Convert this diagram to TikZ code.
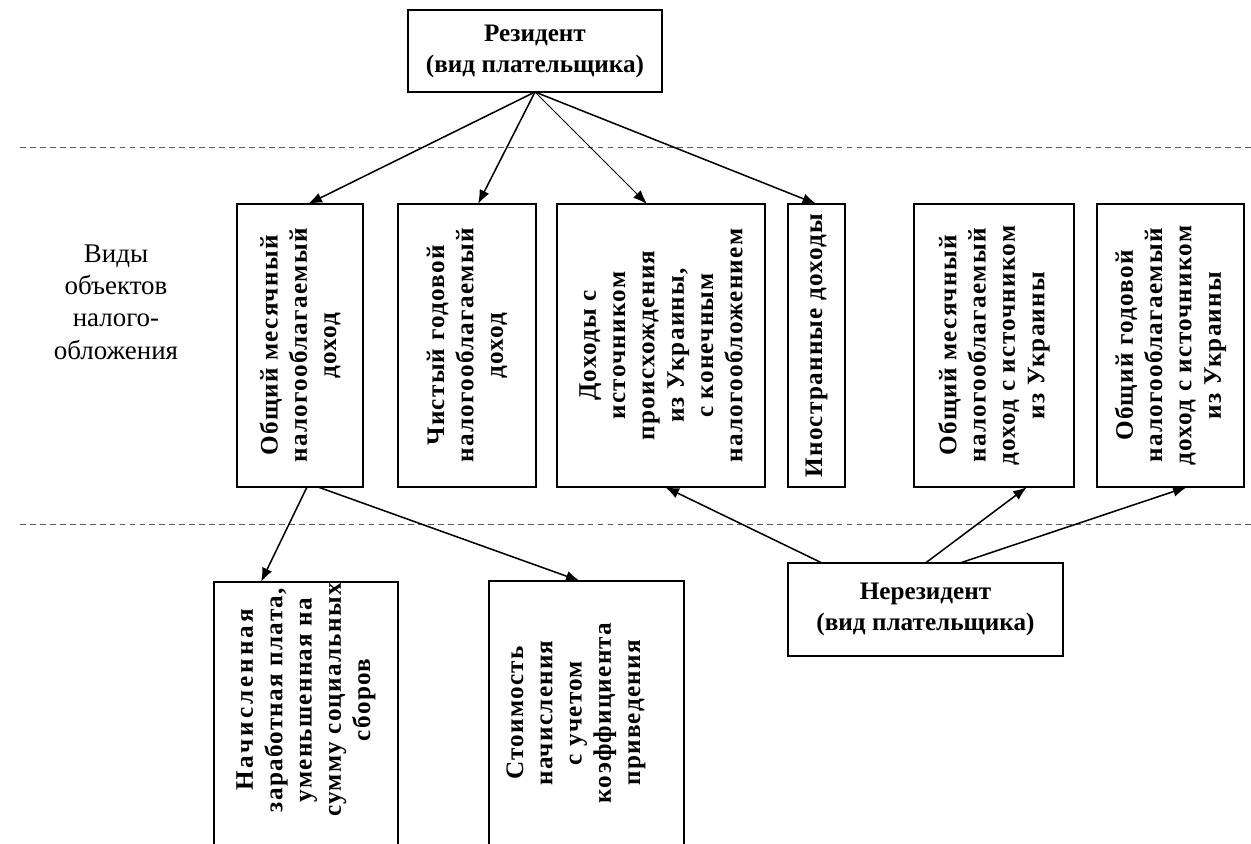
\documentclass[tikz,border=0pt]{standalone}
\usepackage{fontspec}
\setmainfont{Liberation Serif}
\usetikzlibrary{arrows.meta}

\begin{document}
\begin{tikzpicture}[x=0.03cm, y=-0.03cm,
    objframe/.style={draw, line width=0.9pt, inner sep=0pt, outer sep=0pt},
    objtext/.style={rotate=90, align=center, inner sep=0pt,
        font=\fontsize{21.5}{25}\selectfont\bfseries\addfontfeature{LetterSpace=5}},
    payer/.style={draw, line width=0.9pt, align=center, inner sep=0pt, outer sep=0pt,
        font=\fontsize{21.5}{26.5}\selectfont\bfseries},
    arr/.style={-{Latex[length=12pt, width=9pt]}, line width=1.3pt},
    thinarr/.style={-{Latex[length=12pt, width=9pt]}, line width=0.7pt},
    divider/.style={draw=black!65, line width=0.7pt, dash pattern=on 5pt off 3.5pt}]

\useasboundingbox (0,0) rectangle (1251,844);
\clip (0,0) rectangle (1251,844);

%box of the top row: name, x of centre, width, text
\newcommand{\objectbox}[4]{
        \node[objframe, minimum width=#3*0.03cm, minimum height=283*0.03cm] (#1) at (#2,345.5) {};
        \node[objtext] (#1t) at (#1.center) {#4};
}

%%dashed lines
\draw[divider] (20,147) -- (1251,147);
\draw[divider] (20,524) -- (1251,524);

%%payers
\node[payer, minimum width=254*0.03cm, minimum height=82*0.03cm] (res) at (535,51)
    {Резидент\\(вид плательщика)};
\node[payer, minimum width=275*0.03cm, minimum height=93*0.03cm] (nonres) at (925.5,609.5)
    {Нерезидент\\(вид плательщика)};

%%left label
\node[align=center, font=\fontsize{23}{27.5}\selectfont] (lbl) at (116,302)
    {Виды\\объектов\\налого-\\обложения};

%%objects of taxation
\objectbox{b1}{300}{126}{Общий месячный\\налогооблагаемый\\доход}
\objectbox{b2}{467}{138}{Чистый годовой\\налогооблагаемый\\доход}
\objectbox{b3}{661}{208}{Доходы с\\источником\\происхождения\\из Украины,\\с конечным\\налогообложением}
\objectbox{b4}{816.5}{57}{Иностранные доходы}
\objectbox{b5}{994}{160}{Общий месячный\\налогооблагаемый\\доход с источником\\из Украины}
\objectbox{b6}{1170.5}{147}{Общий годовой\\налогооблагаемый\\доход с источником\\из Украины}

%%lower row
\node[objframe, minimum width=184*0.03cm, minimum height=300*0.03cm] (nach) at (306,732) {};
\node[objtext] (nacht) at (306,700)
    {{\addfontfeature{LetterSpace=12}Начисленная}\\заработная плата,\\уменьшенная на\\сумму социальных\\сборов};
\node[objframe, minimum width=195*0.03cm, minimum height=300*0.03cm] (stoim) at (586.5,731) {};
\node[objtext] (stoimt) at (576,713)
    {Стоимость\\начисления\\с учетом\\коэффициента\\приведения};

%%resident
\draw[arr] (res.south) -- ([shift={(8,0)}]b1.north);
\draw[arr] (res.south) -- ([shift={(11,0)}]b2.north);
\draw[thinarr] (res.south) -- ([shift={(-14,0)}]b3.north);
\draw[arr] (res.south) -- (b4.north);

%%monthly income
\draw[arr] ([shift={(7,0)}]b1.south) -- ([shift={(-45,0)}]nach.north);
\draw[arr] ([shift={(18,0)}]b1.south) -- ([shift={(-6.5,0)}]stoim.north);

%%non-resident
\draw[arr] ([shift={(-103.5,0)}]nonres.north) -- ([shift={(4,0)}]b3.south);
\draw[arr] (nonres.north) -- ([shift={(33,0)}]b5.south);
\draw[arr] ([shift={(34.5,0)}]nonres.north) -- ([shift={(16.5,0)}]b6.south);

\end{tikzpicture}
\end{document}
